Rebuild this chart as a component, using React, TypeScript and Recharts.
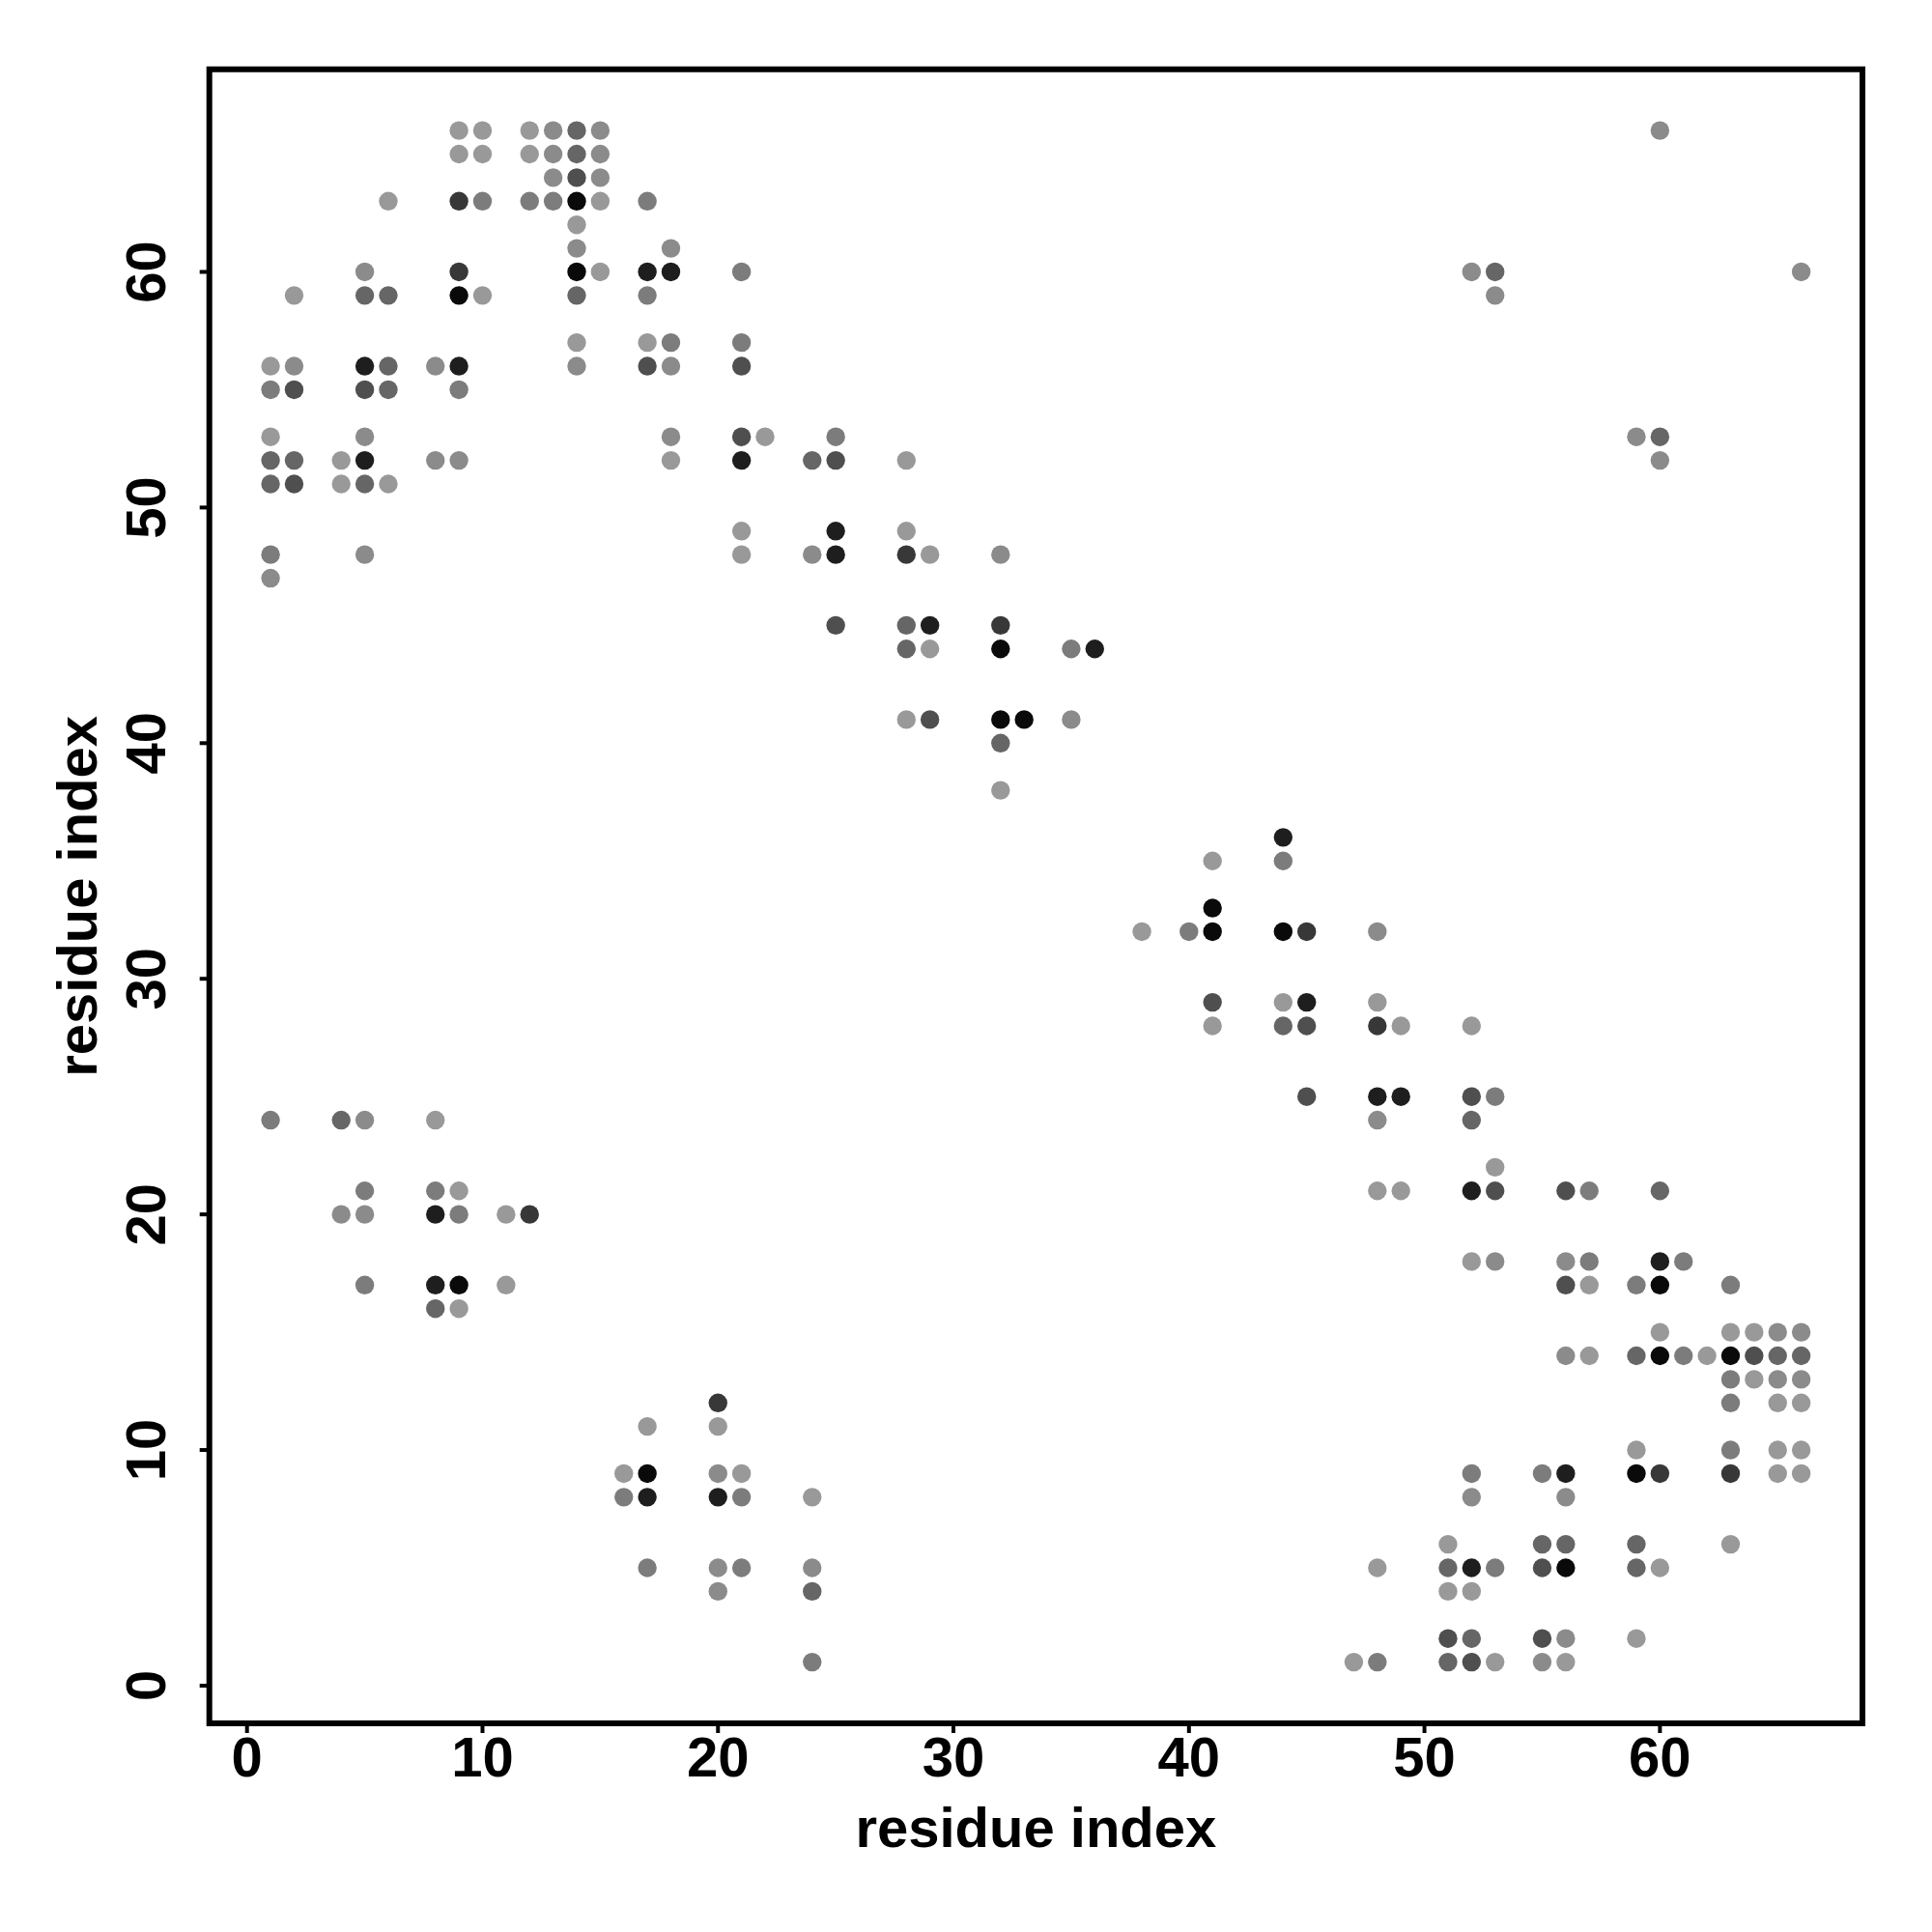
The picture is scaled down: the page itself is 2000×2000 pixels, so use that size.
import { ScatterChart, Scatter, XAxis, YAxis, ReferenceArea, Label } from "recharts";

// contacts grouped by grey level: [residue i, residue j]
const black: [number, number][] = [
  [14, 63], [14, 60], [9, 59], [32, 44], [32, 41], [33, 41], [41, 33], [41, 32],
  [44, 32], [60, 17], [60, 14], [63, 14], [59, 9], [56, 5], [9, 17], [17, 9],
];

const nearBlack: [number, number][] = [
  [17, 60], [18, 60], [5, 56], [9, 56], [5, 52], [21, 52], [25, 49], [25, 48],
  [29, 45], [36, 44], [44, 36], [45, 29], [48, 25], [49, 25], [52, 21], [60, 18],
  [56, 9], [52, 5], [8, 20], [8, 17], [17, 8], [20, 8],
];

const darkGrey: [number, number][] = [
  [9, 63], [9, 60], [28, 48], [32, 45], [45, 32], [48, 28], [60, 9], [63, 9],
  [12, 20], [20, 12],
];

const midDark: [number, number][] = [
  [14, 64], [17, 56], [2, 55], [5, 55], [2, 51], [21, 56], [21, 53], [25, 52],
  [25, 45], [29, 41], [41, 29], [45, 28], [45, 25], [52, 25], [53, 21], [56, 21],
  [56, 17], [64, 14], [55, 5], [51, 2], [55, 2], [52, 1],
];

const midGrey: [number, number][] = [
  [14, 66], [14, 65], [5, 59], [6, 59], [14, 59], [6, 56], [6, 55], [1, 52],
  [2, 52], [1, 51], [5, 51], [24, 52], [28, 45], [28, 44], [32, 40], [44, 28],
  [52, 24], [60, 21], [59, 14], [65, 14], [66, 14], [55, 6], [56, 6], [59, 6],
  [51, 5], [59, 5], [52, 2], [51, 1], [4, 24], [8, 16], [24, 4], [53, 60], [60, 53],
];

const grey: [number, number][] = [
  [10, 63], [12, 63], [13, 63], [17, 63], [17, 59], [18, 57], [1, 55], [9, 55],
  [1, 48], [21, 60], [21, 57], [25, 53], [35, 44], [44, 35], [40, 32], [53, 25],
  [57, 21], [57, 18], [61, 18], [59, 17], [63, 17], [61, 14], [63, 13], [63, 12],
  [63, 10], [52, 9], [55, 9], [53, 5], [48, 1], [1, 24], [5, 21], [8, 21],
  [9, 20], [5, 17], [16, 8], [21, 8], [17, 5], [21, 5], [24, 1],
];

const lightGrey: [number, number][] = [
  [13, 66], [15, 66], [13, 65], [15, 65], [13, 64], [15, 64], [14, 61], [18, 61],
  [5, 60], [2, 56], [8, 56], [14, 56], [18, 56], [5, 53], [18, 53], [8, 52],
  [9, 52], [5, 48], [1, 47], [24, 48], [32, 48], [35, 41], [48, 32], [48, 24],
  [53, 18], [56, 18], [65, 15], [66, 15], [56, 14], [65, 13], [66, 13], [52, 8],
  [56, 8], [56, 2], [55, 1], [5, 24], [4, 20], [5, 20], [20, 9], [20, 5],
  [24, 5], [20, 4], [60, 66], [52, 60], [53, 59], [66, 60], [59, 53], [60, 52],
];

const palest: [number, number][] = [
  [9, 66], [10, 66], [12, 66], [9, 65], [10, 65], [12, 65], [6, 63], [15, 63],
  [14, 62], [15, 60], [2, 59], [10, 59], [14, 57], [17, 57], [1, 56], [1, 53],
  [4, 52], [18, 52], [4, 51], [6, 51], [22, 53], [28, 52], [21, 49], [28, 49],
  [21, 48], [29, 48], [29, 44], [28, 41], [32, 38], [41, 35], [38, 32], [44, 29],
  [48, 29], [41, 28], [49, 28], [52, 28], [53, 22], [48, 21], [49, 21], [52, 18],
  [57, 17], [60, 15], [63, 15], [64, 15], [57, 14], [62, 14], [64, 13], [65, 12],
  [66, 12], [59, 10], [65, 10], [66, 10], [65, 9], [66, 9], [51, 6], [63, 6],
  [48, 5], [60, 5], [51, 4], [52, 4], [59, 2], [47, 1], [53, 1], [56, 1],
  [8, 24], [9, 21], [11, 20], [11, 17], [9, 16], [17, 11], [20, 11], [16, 9],
  [21, 9], [24, 8],
];

const ticks = [0, 10, 20, 30, 40, 50, 60];
const domain: [number, number] = [-1.6, 68.6];

const groups = [
  { name: "palest", color: "#999999", pts: palest },
  { name: "lightGrey", color: "#8b8b8b", pts: lightGrey },
  { name: "grey", color: "#7c7c7c", pts: grey },
  { name: "midGrey", color: "#666666", pts: midGrey },
  { name: "midDark", color: "#4f4f4f", pts: midDark },
  { name: "darkGrey", color: "#383838", pts: darkGrey },
  { name: "nearBlack", color: "#1e1e1e", pts: nearBlack },
  { name: "black", color: "#0a0a0a", pts: black },
];

const font = "'Liberation Sans', Arial, Helvetica, sans-serif";

const YTick = (props: any) => {
  const { x, y, payload } = props;
  return (
    <text
      x={x}
      y={y}
      transform={`rotate(-90 ${x} ${y})`}
      textAnchor="middle"
      fontSize={58}
      fontWeight="bold"
      fontFamily={font}
      fill="#000"
    >
      {payload.value}
    </text>
  );
};

export default function App() {
  return (
    <div style={{ position: "absolute", left: 0, top: 0, background: "#fff" }}>
      <ScatterChart
        width={2000}
        height={2000}
        margin={{ top: 71.7, right: 72, bottom: 116, left: 116.7 }}
      >
        <XAxis
          type="number"
          dataKey="x"
          domain={domain}
          ticks={ticks}
          interval={0}
          allowDataOverflow
          height={100}
          axisLine={false}
          tickSize={10}
          tickMargin={4}
          tickLine={{ stroke: "#000", strokeWidth: 4 }}
          tick={{ fontSize: 58, fontWeight: "bold", fill: "#000", fontFamily: font }}
        >
          <Label
            content={(p: any) => {
              const vb = p.viewBox;
              return (
                <text
                  x={vb.x + vb.width / 2}
                  y={vb.y + 128}
                  textAnchor="middle"
                  fontSize={58}
                  fontWeight="bold"
                  fontFamily={font}
                  fill="#000"
                >
                  residue index
                </text>
              );
            }}
          />
        </XAxis>
        <YAxis
          type="number"
          dataKey="y"
          domain={domain}
          ticks={ticks}
          interval={0}
          allowDataOverflow
          width={100}
          axisLine={false}
          tickSize={10}
          tickMargin={36}
          tickLine={{ stroke: "#000", strokeWidth: 4 }}
          tick={<YTick />}
        >
          <Label
            content={(p: any) => {
              const vb = p.viewBox;
              const cx = vb.x - 16.7;
              const cy = vb.y + vb.height / 2;
              return (
                <text
                  x={cx}
                  y={cy}
                  transform={`rotate(-90 ${cx} ${cy})`}
                  textAnchor="middle"
                  fontSize={58}
                  fontWeight="bold"
                  fontFamily={font}
                  fill="#000"
                >
                  residue index
                </text>
              );
            }}
          />
        </YAxis>
        <ReferenceArea
          x1={domain[0]}
          x2={domain[1]}
          y1={domain[0]}
          y2={domain[1]}
          fill="none"
          fillOpacity={0}
          stroke="#000"
          strokeWidth={6}
          ifOverflow="visible"
        />
        {groups.map((g) => (
          <Scatter
            key={g.name}
            name={g.name}
            data={g.pts.map(([x, y]) => ({ x, y }))}
            isAnimationActive={false}
            shape={(p: any) => <circle cx={p.cx} cy={p.cy} r={9.7} fill={g.color} />}
          />
        ))}
      </ScatterChart>
    </div>
  );
}
